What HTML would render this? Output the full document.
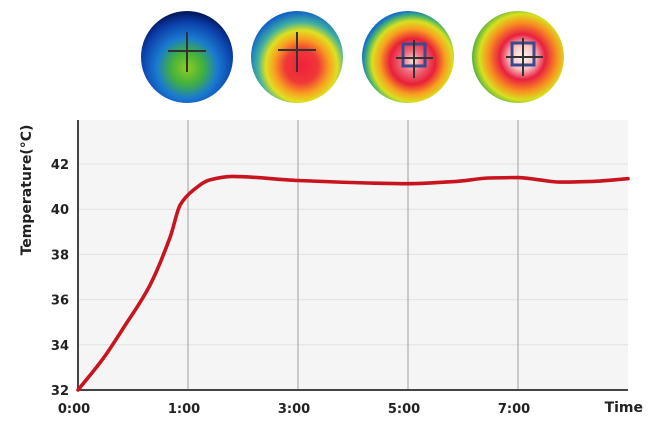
<!DOCTYPE html>
<html><head><meta charset="utf-8"><style>
body{margin:0;background:#fff;width:650px;height:438px;overflow:hidden}
svg text{font-family:"DejaVu Sans","Liberation Sans",sans-serif;font-weight:bold;fill:#222}
</style></head><body>
<svg width="650" height="438">
<defs>
<radialGradient id="g1" cx="0.5" cy="0.62" r="0.6"><stop offset="0" stop-color="#8fcc20"/><stop offset="0.3" stop-color="#40b040"/><stop offset="0.55" stop-color="#1a7ad0"/><stop offset="0.85" stop-color="#0a3ca8"/><stop offset="1" stop-color="#041a60"/></radialGradient>
<radialGradient id="g2" cx="0.55" cy="0.6" r="0.6"><stop offset="0" stop-color="#f0203c"/><stop offset="0.3" stop-color="#f03838"/><stop offset="0.5" stop-color="#f8a020"/><stop offset="0.65" stop-color="#e0e020"/><stop offset="0.8" stop-color="#40b0a0"/><stop offset="1" stop-color="#1060c8"/></radialGradient>
<radialGradient id="g3" cx="0.55" cy="0.55" r="0.55"><stop offset="0" stop-color="#f8e0d8"/><stop offset="0.2" stop-color="#f07080"/><stop offset="0.45" stop-color="#e82038"/><stop offset="0.65" stop-color="#f8a020"/><stop offset="0.8" stop-color="#d8e020"/><stop offset="0.92" stop-color="#40b070"/><stop offset="1" stop-color="#1a70c8"/></radialGradient>
<radialGradient id="g4" cx="0.55" cy="0.5" r="0.55"><stop offset="0" stop-color="#fff8f0"/><stop offset="0.25" stop-color="#f8c0c0"/><stop offset="0.45" stop-color="#e82040"/><stop offset="0.68" stop-color="#f89020"/><stop offset="0.85" stop-color="#d8e020"/><stop offset="1" stop-color="#50b040"/></radialGradient>
</defs>
<g>
<g><circle cx="187" cy="57" r="46" fill="url(#g1)"/><path d="M187 32V72M168 51H206" stroke="#333" stroke-width="2"/></g>
<g><circle cx="297" cy="57" r="46" fill="url(#g2)"/><path d="M297 32V72M278 50H316" stroke="#333" stroke-width="2"/></g>
<g><circle cx="408" cy="57" r="46" fill="url(#g3)"/><rect x="403" y="44" width="22" height="22" fill="none" stroke="#3a4a90" stroke-width="3"/><path d="M414 40V78M396 58H433" stroke="#333" stroke-width="2"/></g>
<g><circle cx="518" cy="57" r="46" fill="url(#g4)"/><rect x="512" y="43" width="22" height="22" fill="none" stroke="#3a4a90" stroke-width="3"/><path d="M523 38V76M506 57H543" stroke="#333" stroke-width="2"/></g>
</g>
<rect x="78" y="120" width="550" height="270" fill="#f5f5f5"/>
<g id="grid"></g>
<g id="axes"></g>
<path id="line" fill="none" stroke="#c8141e" stroke-width="3.6" stroke-linecap="round"/>
<text x="0" y="0" font-size="14" text-anchor="middle" transform="translate(31,190) rotate(-90)">Temperature(°C)</text>
<text x="643" y="412" font-size="14" text-anchor="end">Time</text>
</svg>
<script>
const xTickLabels=["0:00","1:00","3:00","5:00","7:00"];
const yTicks=[32,34,36,38,40,42];
const xVals=[0,0.23,0.42,0.65,0.84,0.93,1.05,1.2,1.4,2.0,3.0,3.44,3.74,4.0,4.19,4.38,4.68,5.0];
const tempVals=[32,33.4,34.8,36.6,38.8,40.2,40.85,41.3,41.45,41.27,41.13,41.23,41.38,41.4,41.3,41.2,41.23,41.35];
const NS="http://www.w3.org/2000/svg";
const X=v=>78+v*110;
const Y=t=>390-(t-32)*22.6;
const grid=document.getElementById('grid'),axes=document.getElementById('axes');
function mk(tag,attrs,parent){const e=document.createElementNS(NS,tag);for(const k in attrs)e.setAttribute(k,attrs[k]);parent.appendChild(e);return e;}
yTicks.forEach(t=>{
 if(t>32){const l=mk('line',{x1:78,x2:628,y1:Y(t),y2:Y(t),stroke:'#e2e2e2','stroke-width':1},grid);
 
 }
 const tx=mk('text',{x:69,y:Y(t)+5,'font-size':13,'text-anchor':'end'},axes);tx.textContent=t;
 
 
});
xTickLabels.forEach((s,i)=>{
 if(i>0){const l=mk('line',{x1:X(i),x2:X(i),y1:120,y2:390,stroke:'#a0a0a0','stroke-width':1},grid);
 
 }
 const tx=mk('text',{x:X(i)-4,y:413,'font-size':13,'text-anchor':'middle'},axes);tx.textContent=s;
 
 
});
const ax=mk('path',{d:'M78 120V390H628',fill:'none',stroke:'#444','stroke-width':2},axes);


const P=xVals.map((v,i)=>[X(v),Y(tempVals[i])]);
const n=P.length,m=[];
const s=[];for(let i=0;i<n-1;i++)s.push((P[i+1][1]-P[i][1])/(P[i+1][0]-P[i][0]));
for(let i=0;i<n;i++){if(i===0)m.push(s[0]);else if(i===n-1)m.push(s[n-2]);else{
 const a=s[i-1],b=s[i];m.push(a*b<=0?0:(2*a*b)/(a+b));}}
let d='M'+P[0][0]+' '+P[0][1];
for(let i=0;i<n-1;i++){const h=(P[i+1][0]-P[i][0])/3;
 d+=` C${P[i][0]+h} ${P[i][1]+m[i]*h} ${P[i+1][0]-h} ${P[i+1][1]-m[i+1]*h} ${P[i+1][0]} ${P[i+1][1]}`;}
document.getElementById('line').setAttribute('d',d);
</script>
</body></html>
